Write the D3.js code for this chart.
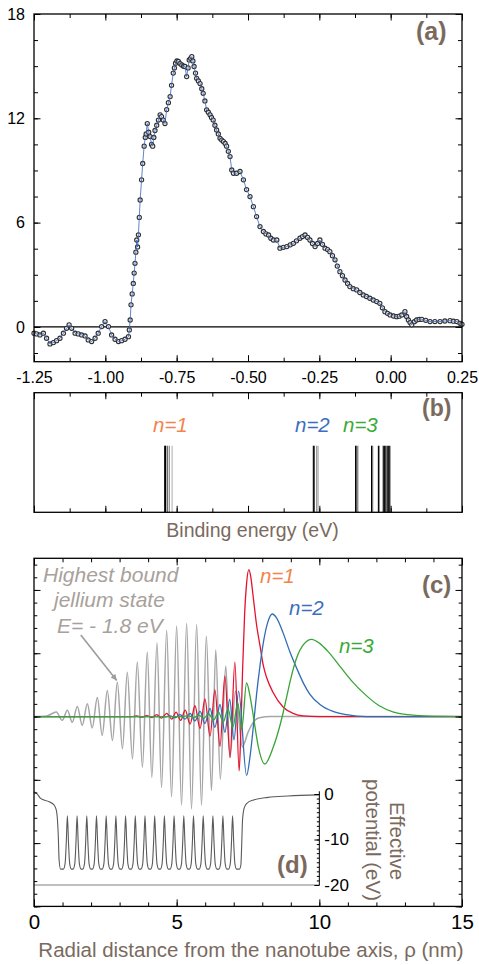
<!DOCTYPE html>
<html><head><meta charset="utf-8">
<script src="https://cdn.jsdelivr.net/npm/d3@7"></script>
<style>
body{margin:0;background:#fff;}
svg{display:block;font-family:"Liberation Sans",Arial,Helvetica,sans-serif;}
</style></head><body>
<svg id="chart" width="479" height="965"></svg>
<script>
// ---------- Panel (a): photoemission spectrum ----------
const specE = [-1.250,-1.241,-1.229,-1.217,-1.206,-1.194,-1.182,-1.171,-1.159,-1.147,-1.136,-1.127,-1.118,-1.106,-1.095,-1.083,-1.071,-1.060,-1.048,-1.036,-1.025,-1.013,-1.001,-0.989,-0.978,-0.966,-0.954,-0.943,-0.931,-0.919,
 -0.916,-0.913,-0.910,-0.906,-0.902,-0.899,-0.896,-0.893,-0.890,-0.887,-0.884,-0.881,-0.878,-0.873,-0.869,-0.864,-0.860,-0.857,-0.853,-0.848,-0.843,-0.838,-0.834,-0.830,-0.826,-0.820,-0.814,-0.808,-0.803,-0.797,-0.791,-0.785,-0.779,-0.773,-0.768,-0.762,-0.758,-0.754,-0.749,-0.744,-0.738,-0.732,-0.726,-0.721,-0.715,-0.710,-0.706,-0.701,-0.697,-0.693,-0.689,-0.684,-0.680,-0.674,-0.668,-0.662,-0.657,-0.651,-0.645,-0.639,-0.633,-0.628,-0.622,-0.616,-0.610,-0.604,-0.598,-0.592,-0.586,-0.580,-0.575,-0.569,-0.563,-0.557,-0.551,-0.540,
 -0.528,-0.516,-0.505,-0.493,-0.481,-0.470,-0.458,-0.446,-0.437,-0.428,-0.420,-0.411,-0.399,-0.388,-0.376,-0.364,-0.352,-0.341,-0.330,-0.318,-0.309,-0.300,-0.291,-0.283,-0.274,-0.265,-0.256,-0.248,-0.239,-0.230,-0.221,-0.213,-0.204,-0.195,-0.187,-0.178,-0.169,-0.160,-0.151,-0.143,-0.131,-0.119,-0.108,-0.096,-0.085,-0.073,-0.061,-0.049,-0.038,-0.029,-0.020,-0.011,-0.002,0.010,0.021,0.030,0.039,0.050,0.056,0.062,0.068,0.074,0.083,0.091,0.100,0.109,0.123,0.138,0.155,0.173,0.190,0.208,0.220,0.232,0.243,0.250];
const specI = [-0.36,-0.40,-0.46,-0.36,-0.65,-0.98,-0.90,-0.79,-0.65,-0.36,-0.08,0.12,-0.08,-0.36,-0.40,-0.46,-0.52,-0.75,-0.84,-0.65,-0.36,0.02,0.31,0.02,-0.46,-0.71,-0.84,-0.79,-0.71,-0.56,
 -0.17,0.40,1.27,1.9,2.5,3.1,3.66,4.3,5.0,4.6,5.3,6.3,7.3,8.46,9.4,10.4,10.9,11.1,11.7,11.2,10.95,10.5,10.4,10.9,11.3,11.6,11.9,12.2,12.1,11.9,11.7,12.5,12.9,13.25,13.9,14.6,14.9,15.17,15.3,15.27,15.15,15.07,15.0,14.98,14.4,14.9,15.36,15.45,15.55,15.3,14.98,14.6,14.3,14.15,14.0,13.7,13.44,13.0,12.49,12.35,12.2,12.05,11.9,11.6,11.33,11.1,10.85,10.75,10.66,10.55,10.4,10.1,9.8,9.03,8.84,8.84,
 8.94,8.46,7.9,7.5,6.92,6.35,5.77,5.49,5.35,5.29,5.1,5.0,5.0,4.53,4.58,4.62,4.72,4.81,4.95,5.1,5.2,5.29,5.15,5.0,4.8,4.62,4.8,5.0,4.75,4.53,4.45,4.33,4.1,3.86,3.5,3.18,2.95,2.7,2.5,2.32,2.2,2.13,1.98,1.84,1.75,1.65,1.55,1.46,1.36,1.1,0.88,0.78,0.69,0.63,0.59,0.62,0.69,0.88,0.6,0.40,0.25,0.12,0.3,0.40,0.43,0.44,0.38,0.31,0.31,0.31,0.34,0.36,0.33,0.31,0.21,0.15];
const xTicksMajorA = [-1.25,-1.00,-0.75,-0.50,-0.25,0.00,0.25];
const xTickLabelsA = ["-1.25","-1.00","-0.75","-0.50","-0.25","0.00","0.25"];
const xTicksMinorA = d3.range(-1.25,0.2501,0.125);
const yTicksMajorA = [0,6,12,18];
const yTickLabelsA = ["0","6","12","18"];
const yTicksMinorA = d3.range(-1.5,18.01,1.5);

// ---------- Panel (b): calculated image-potential levels ----------
const levelE = [-0.792,-0.789,-0.783,-0.776,-0.766,-0.271,-0.268,-0.259,-0.254,-0.123,-0.119,-0.115,-0.067,-0.063,-0.043,-0.040,-0.026,-0.022,-0.017,-0.012,-0.007,-0.003];
const levelShade = [0,0,0.35,0.6,0.85,0,0.1,0.6,0.85,0,0.35,0.6,0,0.55,0,0.55,0,0,0,0,0,0];
const levelHeight = 0.557;

// ---------- Panel (c): radial wavefunctions ----------
const psiJellium = [[0,0],[0.45,0.01],[0.78,0.07],[0.99,-0.06],[1.17,0.10],[1.34,-0.09],[1.52,0.16],[1.69,-0.14],[1.87,0.20],[2.04,-0.18],[2.22,0.30],[2.39,-0.30],[2.57,0.41],[2.75,-0.38],[2.92,0.54],[3.10,-0.51],[3.27,0.70],[3.45,-0.67],[3.62,0.86],[3.80,-0.80],[3.97,1.02],[4.13,-0.96],[4.31,1.16],[4.47,-1.12],[4.65,1.36],[4.82,-1.27],[5.00,1.43],[5.17,-1.40],[5.35,1.47],[5.52,-1.46],[5.70,1.45],[5.87,-1.40],[6.04,1.27],[6.22,-1.17],[6.37,1.05],[6.53,-0.99],[6.72,0.80],[6.87,-0.64],[7.06,0.40],[7.30,-0.48],[7.5,-0.25],[7.7,-0.08],[7.9,-0.02],[8.3,0],[15,0]];
const psiN1 = [[0,0],[3.4,0],[3.6,0.008],[3.78,-0.01],[3.95,0.015],[4.13,-0.015],[4.30,0.03],[4.47,-0.025],[4.65,0.05],[4.83,-0.04],[4.98,0.07],[5.14,-0.06],[5.30,0.10],[5.47,-0.12],[5.64,0.17],[5.82,-0.19],[5.99,0.28],[6.17,-0.31],[6.34,0.42],[6.52,-0.47],[6.69,0.64],[6.87,-0.65],[7.04,0.86],[7.19,-0.86],[7.25,-0.2],[7.31,0.73],[7.38,1.6],[7.45,2.1],[7.53,2.32],[7.6,2.2],[7.68,1.9],[7.8,1.45],[7.92,1.12],[8.04,0.8],[8.15,0.62],[8.38,0.38],[8.73,0.15],[9.08,0.05],[9.43,0.01],[10,0],[15,0]];
const psiN2 = [[0,0],[4.3,0],[4.6,-0.005],[4.77,0.01],[4.94,-0.02],[5.12,0.03],[5.29,-0.04],[5.47,0.05],[5.64,-0.07],[5.82,0.08],[5.99,-0.11],[6.17,0.13],[6.34,-0.17],[6.52,0.19],[6.69,-0.25],[6.86,0.27],[7.01,-0.37],[7.17,0.40],[7.45,-0.93],[7.58,-0.6],[7.7,-0.1],[7.8,0.35],[7.92,0.8],[8.05,1.2],[8.2,1.5],[8.35,1.62],[8.5,1.56],[8.74,1.31],[8.97,1.02],[9.21,0.76],[9.45,0.52],[9.67,0.35],[10.02,0.19],[10.48,0.08],[10.95,0.03],[11.65,0],[15,0]];
const psiN3 = [[0,0],[5.2,0],[5.42,0.01],[5.6,-0.015],[5.78,0.02],[5.95,-0.03],[6.12,0.04],[6.3,-0.05],[6.47,0.07],[6.63,-0.09],[6.8,0.12],[6.97,-0.17],[7.14,0.22],[7.28,-0.2],[7.45,0.53],[7.58,0.3],[7.69,0],[7.85,-0.45],[8.09,-0.75],[8.38,-0.49],[8.7,0],[8.85,0.3],[9.0,0.6],[9.2,0.92],[9.45,1.14],[9.73,1.22],[10.0,1.16],[10.3,1.03],[10.78,0.76],[11.18,0.54],[11.6,0.35],[12.1,0.17],[12.6,0.07],[13.1,0.03],[13.7,0.01],[15,0]];
const xTicksMajorC = [0,5,10,15];
const xTickLabelsC = ["0","5","10","15"];
const xTicksMinorC = d3.range(0,15.01,1);
const yTicksMajorC = [-3,-2,-1,0,1,2];
const yTicksMinorC = d3.range(-3,2.51,0.2);

// ---------- Panel (d): effective potential ----------
const potEdgeIn = [[0,0.5],[0.1,0.1],[0.23,-0.95],[0.53,-1.7],[0.7,-2.4],[0.78,-3.5],[0.82,-5.5],[0.85,-9],[0.88,-14.5],[0.93,-16.5]];
const potPeakRho = [1.17,1.51,1.85,2.19,2.53,2.87,3.21,3.55,3.89,4.23,4.57,4.91,5.25,5.59,5.93,6.27,6.62,6.96];
const potPeakShape = [[-0.14,-16.5],[-0.08,-15.3],[-0.04,-10.8],[0,-4.8],[0.04,-10.8],[0.08,-15.3],[0.14,-16.5]];
const potEdgeOut = [[7.2,-16.5],[7.25,-15.6],[7.28,-11],[7.31,-5.5],[7.36,-3.2],[7.45,-2.1],[7.7,-1.3],[8.2,-0.75],[8.9,-0.45],[10,-0.2]];
const vTicksMajor = [0,-10,-20];
const vTickLabels = ["0","-10","-20"];
const vTicksMinor = d3.range(-20,0.01,1);

// ---------- drawing ----------
const svg = d3.select("#chart");
const BROWN = "#7a6a5e";
const L = 34, R = 462;

function addAxis(axisFn, scale, vals, size, tx, ty, labels, pad, fs){
  const ax = axisFn(scale).tickValues(vals).tickSize(size).tickPadding(pad||3);
  ax.tickFormat(labels ? ((d,i)=>labels[i]) : "");
  const g = svg.append("g").attr("transform",`translate(${tx},${ty})`).call(ax);
  g.select(".domain").remove();
  g.selectAll(".tick line").attr("stroke","#000").attr("stroke-width",1);
  g.selectAll(".tick text").attr("fill","#000").style("font-size",(fs||16)+"px").style("font-family","'Liberation Sans',Arial,sans-serif");
  return g;
}
function frame(x0,y0,x1,y1){
  svg.append("rect").attr("x",x0).attr("y",y0).attr("width",x1-x0).attr("height",y1-y0)
    .attr("fill","none").attr("stroke","#000").attr("stroke-width",1.3);
}
function label(t,x,y,opts){
  const s = svg.append("text").attr("x",x).attr("y",y).text(t);
  Object.entries(opts||{}).forEach(([k,v])=>s.style(k,v));
  return s;
}

// Panel (a)
const xA = d3.scaleLinear().domain([-1.25,0.25]).range([L,R]);
const yA = d3.scaleLinear().domain([-2,18]).range([361.7,14]);
const specData = specE.map((e,i)=>[e,specI[i]]);
svg.append("line").attr("x1",xA(-1.25)).attr("x2",xA(0.25)).attr("y1",yA(0)).attr("y2",yA(0)).attr("stroke","#000").attr("stroke-width",1.2);
svg.append("g").selectAll("circle").data(specData).join("circle")
  .attr("cx",d=>xA(d[0])).attr("cy",d=>yA(d[1])).attr("r",2.1)
  .attr("fill","#f4f4f4").attr("stroke","#2e2e2e").attr("stroke-width",1.1);
svg.append("path").datum(specData).attr("d",d3.line().x(d=>xA(d[0])).y(d=>yA(d[1])))
  .attr("fill","none").attr("stroke","#3c64b4").attr("stroke-width",0.8);
addAxis(d3.axisBottom,xA,xTicksMinorA,-4,0,361.7);
addAxis(d3.axisBottom,xA,xTicksMajorA,-6.5,0,361.7,xTickLabelsA,10,16);
addAxis(d3.axisTop,xA,xTicksMinorA,-4,0,14);
addAxis(d3.axisTop,xA,xTicksMajorA,-6.5,0,14);
addAxis(d3.axisLeft,yA,yTicksMinorA,-4,L,0);
addAxis(d3.axisLeft,yA,yTicksMajorA,-6.5,L,0,yTickLabelsA,9,16);
addAxis(d3.axisRight,yA,yTicksMinorA,-4,R,0);
addAxis(d3.axisRight,yA,yTicksMajorA,-6.5,R,0);
frame(L,14,R,361.7);
label("(a)",416,40,{"font-size":"25px","font-weight":"bold","fill":BROWN});

// Panel (b)
const yB = d3.scaleLinear().domain([0,1]).range([512.3,392.7]);
const shade = d3.scaleLinear().domain([0,1]).range(["#000000","#d4d4d4"]);
const levels = levelE.map((e,i)=>({e,s:levelShade[i]})).sort((a,b)=>b.s-a.s);
svg.append("g").selectAll("line").data(levels).join("line")
  .attr("x1",d=>xA(d.e)).attr("x2",d=>xA(d.e)).attr("y1",yB(0)).attr("y2",yB(levelHeight))
  .attr("stroke",d=>shade(d.s)).attr("stroke-width",1.1);
addAxis(d3.axisBottom,xA,xTicksMinorA,-4,0,512.3);
addAxis(d3.axisBottom,xA,xTicksMajorA,-6.5,0,512.3);
addAxis(d3.axisTop,xA,xTicksMinorA,-4,0,392.7);
addAxis(d3.axisTop,xA,xTicksMajorA,-6.5,0,392.7);
frame(L,392.7,R,512.3);
label("(b)",422,416,{"font-size":"23px","font-weight":"bold","fill":BROWN});
label("n=1",153,432,{"font-size":"20.5px","font-style":"italic","fill":"#f4844a"});
label("n=2",295,432,{"font-size":"20.5px","font-style":"italic","fill":"#3d6fc0"});
label("n=3",343,432,{"font-size":"20.5px","font-style":"italic","fill":"#3aab38"});
label("Binding energy (eV)",252.5,537,{"font-size":"19.5px","fill":BROWN,"text-anchor":"middle"});

// Panel (c)
const xC = d3.scaleLinear().domain([0,15]).range([L,R]);
const yC = d3.scaleLinear().domain([-3,2.5]).range([906.4,558.3]);
const yV = d3.scaleLinear().domain([-20,0]).range([885,794]);
const lineC = d3.line().x(d=>xC(d[0])).y(d=>yC(d[1])).curve(d3.curveMonotoneX);

// inset (d) potential
const potData = potEdgeIn.concat(...potPeakRho.map(p=>potPeakShape.map(s=>[p+s[0],s[1]])), potEdgeOut);
svg.append("line").attr("x1",xC(0)).attr("x2",xC(10)).attr("y1",yV(-20)).attr("y2",yV(-20)).attr("stroke","#808080").attr("stroke-width",1);
svg.append("path").datum(potData)
  .attr("d",d3.line().x(d=>xC(d[0])).y(d=>yV(d[1])).curve(d3.curveMonotoneX))
  .attr("fill","none").attr("stroke","#5a5a5a").attr("stroke-width",1.1);
svg.append("line").attr("x1",xC(10)).attr("x2",xC(10)).attr("y1",yV(0.6)).attr("y2",yV(-20)).attr("stroke","#000").attr("stroke-width",1);
addAxis(d3.axisRight,yV,vTicksMinor,-2.5,xC(10),0);
addAxis(d3.axisRight,yV,vTicksMajor,-5,xC(10),0,vTickLabels,5,17);

// wavefunctions
[[psiJellium,"#a6a6a6",1.5],[psiN1,"#e6112e",1.3],[psiN2,"#2f6cb6",1.3],[psiN3,"#38a534",1.3]].forEach(([d,c,w])=>{
  svg.append("path").datum(d).attr("d",lineC).attr("fill","none").attr("stroke",c).attr("stroke-width",w);
});

// arrow annotation
svg.append("defs").append("marker").attr("id","ah").attr("viewBox","0 0 10 10").attr("refX",10).attr("refY",5)
  .attr("markerWidth",7).attr("markerHeight",6).attr("markerUnits","userSpaceOnUse").attr("orient","auto")
  .append("path").attr("d","M0,0L10,5L0,10z").attr("fill","#9c9c9c");
svg.append("line").attr("x1",xC(1.64)).attr("y1",yC(1.29)).attr("x2",xC(2.90)).attr("y2",yC(0.57))
  .attr("stroke","#9c9c9c").attr("stroke-width",1.6).attr("marker-end","url(#ah)");

addAxis(d3.axisBottom,xC,xTicksMinorC,-4,0,906.4);
addAxis(d3.axisBottom,xC,xTicksMajorC,-7,0,906.4,xTickLabelsC,8.5,20.5);
addAxis(d3.axisTop,xC,xTicksMinorC,-4,0,558.3);
addAxis(d3.axisTop,xC,xTicksMajorC,-7,0,558.3);
addAxis(d3.axisLeft,yC,yTicksMinorC,-3.3,L,0);
addAxis(d3.axisLeft,yC,yTicksMajorC,-6.5,L,0);
addAxis(d3.axisRight,yC,yTicksMinorC,-3.3,R,0);
addAxis(d3.axisRight,yC,yTicksMajorC,-6.5,R,0);
frame(L,558.3,R,906.4);

const GRAYTXT = "#a8a19b";
label("Highest bound",43,582,{"font-size":"21px","font-style":"italic","fill":GRAYTXT});
label("jellium state",54,607,{"font-size":"21px","font-style":"italic","fill":GRAYTXT});
label("E= - 1.8 eV",57,632.5,{"font-size":"21px","font-style":"italic","fill":GRAYTXT});
label("n=1",260,583,{"font-size":"20.5px","font-style":"italic","fill":"#f4844a"});
label("n=2",289,615,{"font-size":"20.5px","font-style":"italic","fill":"#3d6fc0"});
label("n=3",339,653,{"font-size":"20.5px","font-style":"italic","fill":"#3aab38"});
label("(c)",422,593,{"font-size":"24px","font-weight":"bold","fill":BROWN});
label("(d)",277,873,{"font-size":"24px","font-weight":"bold","fill":BROWN});
svg.append("text").attr("transform","translate(390,841) rotate(90)").attr("text-anchor","middle")
  .style("font-size","20.5px").style("fill",BROWN).text("Effective");
svg.append("text").attr("transform","translate(366,840) rotate(90)").attr("text-anchor","middle")
  .style("font-size","20.5px").style("fill",BROWN).text("potential (eV)");
label("Radial distance from the nanotube axis,  \u03c1 (nm)",251,957,{"font-size":"20.5px","fill":BROWN,"text-anchor":"middle"});
</script>
</body></html>
